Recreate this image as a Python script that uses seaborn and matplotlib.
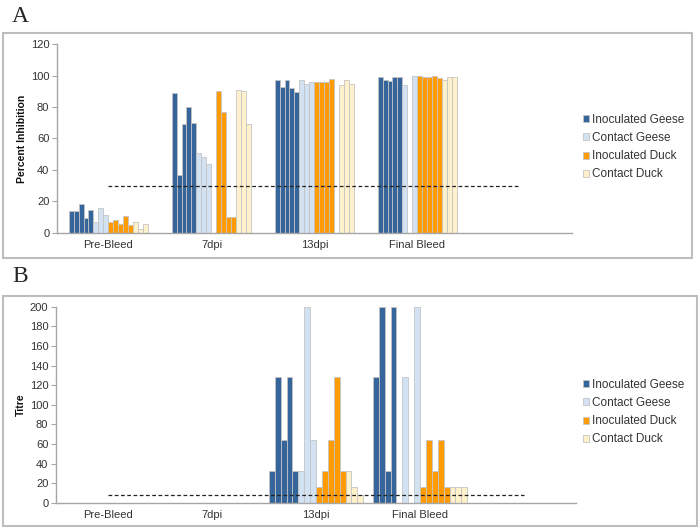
import numpy as np
import pandas as pd
import matplotlib
matplotlib.use("Agg")
import matplotlib.pyplot as plt
from matplotlib.patches import Patch, Rectangle
import seaborn as sns

nan = np.nan

timepoints = ["Pre-Bleed", "7dpi", "13dpi", "Final Bleed"]
series_names = ["Inoculated Geese", "Contact Geese", "Inoculated Duck", "Contact Duck"]
series_colors = ["#35659a", "#d3e2f2", "#ff9b05", "#fff1cc"]

# Panel A - percent inhibition, one list per timepoint, one value per bird
inoc_geese_pi = [[14, 14, 18, 9.5, 14.5], [89, 37, 69, 80, 70],
                 [97, 93, 97, 92, 89.5], [99, 97.5, 96.5, 99, 99]]
contact_geese_pi = [[6.5, 16, 11], [51, 48, 44], [97, 95, 96], [94, nan, 100]]
inoc_duck_pi = [[6.5, 8, 5.5, 10.5, 5], [nan, 90, 77, 10, 10],
                [96, 96, 96, 98, nan], [99.5, 99, 99, 99.5, 98.5]]
contact_duck_pi = [[6.5, 2.5, 5.5], [91, 90, 69], [94, 97, 95], [97, 99, 99]]
cutoff_pi = 30

# Panel B - titre
inoc_geese_titre = [[0, 0, 0, 0, 0], [0, 0, 0, 0, 0],
                    [32, 128, 64, 128, 32], [128, 200, 32, 200, nan]]
contact_geese_titre = [[0, 0, 0], [0, 0, 0], [32, 200, 64], [128, nan, 200]]
inoc_duck_titre = [[0, 0, 0, 0, 0], [0, 0, 0, 0, 0],
                   [16, 32, 64, 128, 32], [16, 64, 32, 64, 16]]
contact_duck_titre = [[0, 0, 0], [0, 0, 0], [32, 16, 8], [16, 16, 16]]
cutoff_titre = 8


def build_frame(series_lists):
    rows = []
    for i, tp in enumerate(timepoints):
        for name, vals in zip(series_names, series_lists):
            for k, v in enumerate(vals[i]):
                rows.append({"timepoint": tp, "slot": f"{name} {k}", "value": v})
    return pd.DataFrame(rows)


def slot_palette(series_lists):
    pal = {}
    order = []
    for name, col, vals in zip(series_names, series_colors, series_lists):
        for k in range(len(vals[0])):
            pal[f"{name} {k}"] = col
            order.append(f"{name} {k}")
    return order, pal


sns.set_style("white")
plt.rcParams["font.family"] = ["Liberation Sans", "DejaVu Sans"]

fig = plt.figure(figsize=(7, 5.3), dpi=100)

# panel frames
fig.patches.append(Rectangle((3 / 700, 1 - 258 / 530), 689 / 700, 225 / 530,
                             transform=fig.transFigure, fill=False,
                             edgecolor="#bdbdbd", linewidth=1.5))
fig.patches.append(Rectangle((3 / 700, 1 - 526 / 530), 694 / 700, 230 / 530,
                             transform=fig.transFigure, fill=False,
                             edgecolor="#bdbdbd", linewidth=1.5))

panels = [
    dict(rect=[0.0814, 0.561, 0.7357, 0.3555],
         data=[inoc_geese_pi, contact_geese_pi, inoc_duck_pi, contact_duck_pi],
         ylim=120, ylabel="Percent Inhibition", cutoff=cutoff_pi, width=0.776,
         legend_y=1 - 110 / 530, letter="A", letter_y=1 - 16 / 530),
    dict(rect=[0.080, 0.0515, 0.743, 0.3698],
         data=[inoc_geese_titre, contact_geese_titre, inoc_duck_titre, contact_duck_titre],
         ylim=200, ylabel="Titre", cutoff=cutoff_titre, width=0.907,
         legend_y=1 - 375 / 530, letter="B", letter_y=1 - 276 / 530),
]

for p in panels:
    ax = fig.add_axes(p["rect"])
    df = build_frame(p["data"]).dropna()
    order, pal = slot_palette(p["data"])
    sns.barplot(data=df, x="timepoint", y="value", hue="slot", order=timepoints,
                hue_order=order, palette=pal, width=p["width"], gap=0,
                errorbar=None, saturation=1, edgecolor="#c4c4c4", linewidth=0.6,
                legend=False, ax=ax)
    ax.hlines(p["cutoff"], 0, len(timepoints), colors="#222222",
              linestyles=(0, (3, 2)), linewidth=0.9)
    ax.set_xlim(-0.5, len(timepoints) + 0.5)
    ax.set_ylim(0, p["ylim"])
    ax.set_yticks(np.arange(0, p["ylim"] + 1, 20))
    ax.set_xlabel("")
    ax.set_ylabel(p["ylabel"], fontsize=7.5, fontweight="bold", color="#111111")
    ax.yaxis.set_label_coords(-0.058, 0.5)
    for s in ["top", "right"]:
        ax.spines[s].set_visible(False)
    for s in ["left", "bottom"]:
        ax.spines[s].set_color("#a6a6a6")
        ax.spines[s].set_linewidth(1.0)
    ax.tick_params(axis="y", left=True, length=3.5, width=0.8, color="#a6a6a6",
                   pad=2, labelsize=8, labelcolor="#333333")
    ax.tick_params(axis="x", bottom=False, length=0, pad=5,
                   labelsize=8, labelcolor="#333333")

    handles = [Patch(facecolor=c, edgecolor="#c4c4c4", linewidth=0.6)
               for c in series_colors]
    fig.legend(handles, series_names, loc="upper left",
               bbox_to_anchor=(578 / 700, p["legend_y"] + 1 / 530), frameon=False,
               fontsize=8.5, handlelength=0.55, handleheight=0.55,
               handletextpad=0.2, labelspacing=0.53, borderaxespad=0,
               labelcolor="#333333")
    fig.text(12 / 700, p["letter_y"], p["letter"], fontsize=17,
             family=["Liberation Serif", "DejaVu Serif"], va="center")

fig.savefig("out.png", dpi=100)
